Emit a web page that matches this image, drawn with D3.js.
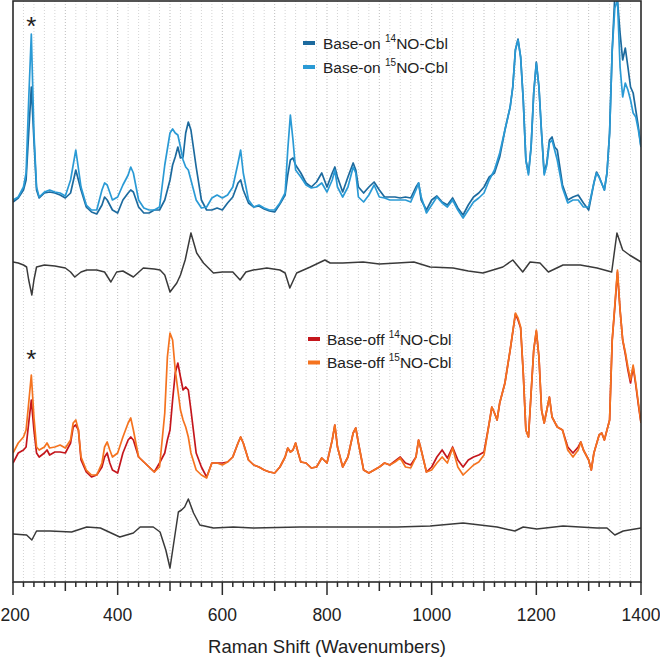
<!DOCTYPE html>
<html><head><meta charset="utf-8">
<script src="https://cdn.jsdelivr.net/npm/d3@7"></script>
<style>body{margin:0;background:#fff}svg{display:block;font-family:"Liberation Sans",Arial,sans-serif}</style>
</head><body><svg id="c" width="660" height="658"></svg>
<script>
// Raman shift (cm-1) sample points, base-on pair
const onW = [200,210,220,225,230,235,240,245,250,260,270,280,290,300,310,320,330,340,350,360,370,375,380,390,400,410,420,425,430,440,450,460,470,480,490,500,505,510,515,520,525,530,535,540,550,560,570,580,590,600,610,620,630,635,640,650,660,670,680,690,700,710,720,725,730,735,740,750,760,770,780,790,800,810,815,820,830,840,850,855,860,870,880,890,900,910,920,930,940,950,960,970,975,980,990,1000,1010,1020,1030,1040,1050,1060,1070,1080,1090,1100,1110,1120,1130,1140,1150,1155,1160,1165,1170,1175,1180,1185,1190,1195,1200,1205,1210,1215,1220,1225,1230,1235,1240,1250,1260,1270,1280,1290,1300,1310,1315,1320,1330,1335,1340,1345,1350,1355,1360,1365,1370,1375,1380,1385,1390,1395,1400];
const on14 = [398,402,410,420,467,513,460,410,402,407,408,407,405,402,407,430,410,393,388,386,395,403,400,390,387,400,407,410,408,393,387,387,390,390,400,420,435,443,453,442,443,467,478,470,433,400,390,390,392,390,397,403,417,420,410,397,393,394,391,389,388,396,405,425,440,442,435,427,417,413,418,427,413,427,433,423,408,423,437,430,413,407,413,418,410,403,403,403,402,403,402,413,417,400,390,400,404,398,395,402,392,385,395,403,407,413,423,427,443,470,493,513,550,561,543,500,440,427,453,507,538,513,467,427,437,460,463,453,450,415,400,403,405,397,390,417,428,423,410,427,467,550,605,600,567,540,552,533,513,507,490,473,453];
const on15 = [400,403,413,427,500,566,467,413,403,408,410,408,407,404,420,450,413,395,390,390,410,417,415,400,403,415,425,433,427,400,392,390,390,393,435,467,471,467,465,453,440,433,430,420,400,392,393,402,405,402,405,413,437,450,427,400,393,395,392,390,390,397,407,450,485,460,430,423,415,412,413,417,408,420,430,413,403,413,433,427,403,398,405,415,403,402,400,400,400,400,398,410,417,403,387,395,403,397,393,400,390,382,390,398,402,407,420,430,447,470,493,513,550,560,543,500,440,425,453,507,537,513,467,425,435,457,460,450,440,412,397,400,400,393,393,417,427,423,410,427,467,550,592,600,533,503,517,510,500,487,483,470,453];
// base-off pair
const offW = [200,210,220,225,230,235,240,245,250,260,265,270,280,290,300,310,315,320,325,330,340,350,360,370,375,380,385,390,400,410,420,425,430,440,450,460,470,480,490,495,500,505,510,515,520,525,530,535,540,550,560,570,580,590,600,610,620,630,635,640,650,660,670,680,690,700,710,720,725,730,735,740,745,750,760,770,780,790,800,810,815,820,830,840,850,855,860,870,880,890,900,910,920,930,940,950,960,970,975,980,990,1000,1010,1020,1030,1040,1050,1060,1070,1080,1090,1100,1110,1115,1120,1125,1130,1140,1150,1160,1165,1170,1175,1180,1185,1190,1195,1200,1205,1210,1215,1220,1225,1230,1240,1250,1260,1270,1280,1285,1290,1300,1305,1310,1320,1325,1330,1340,1345,1350,1355,1360,1365,1370,1375,1380,1385,1390,1395,1400];
const off14 = [137,147,150,153,177,200,170,147,143,147,150,145,148,148,147,157,173,175,170,140,128,123,125,133,143,147,137,130,127,147,160,163,160,143,138,133,128,137,147,160,170,200,227,237,223,210,213,210,190,147,133,123,137,137,137,138,143,157,163,157,140,135,133,130,128,127,133,143,152,148,150,157,147,138,137,132,133,142,137,160,175,153,133,143,167,172,157,130,127,130,133,137,135,139,143,137,135,143,160,150,128,133,143,150,142,153,140,133,140,143,145,148,177,193,187,180,197,217,250,286,280,272,227,170,163,207,250,269,243,190,177,190,203,183,173,170,153,147,153,158,150,140,130,147,165,167,160,180,260,293,328,290,260,246,230,217,233,215,195,177];
const off15 = [147,157,163,170,197,225,183,153,150,153,157,152,153,155,152,160,177,180,170,143,130,125,125,137,153,158,150,143,147,163,177,182,170,143,138,133,128,133,187,243,267,260,230,210,190,180,173,163,147,130,125,122,137,137,135,138,143,157,163,157,140,135,133,130,128,127,133,143,152,148,150,157,147,138,137,132,133,142,137,160,175,153,133,143,167,172,157,130,127,130,133,137,135,138,142,133,132,143,160,150,128,130,137,143,137,152,133,125,130,135,138,145,177,193,187,180,197,217,250,287,282,273,227,170,163,207,250,270,243,190,177,190,203,183,173,170,150,143,150,158,150,140,130,147,165,167,160,180,260,295,330,290,260,248,233,220,235,217,197,177];
// difference spectra (14NO - 15NO), offset
const diffOnW = [200,210,220,226,230,236,240,245,260,280,300,310,318,330,341,360,375,387,398,410,430,449,470,481,490,500,513,520,529,540,551,564,583,600,620,634,645,659,685,710,720,729,742,768,796,806,830,869,900,934,966,997,1041,1070,1098,1136,1155,1174,1188,1207,1223,1251,1284,1316,1344,1354,1365,1378,1400];
const diffOn = [338,337,335,333,320,305,320,333,335,334,332,328,323,328,330,330,328,318,328,329,323,332,331,330,325,308,317,325,340,367,347,337,327,328,328,320,328,330,332,330,327,312,327,333,340,337,337,338,336,337,338,333,332,329,327,333,340,328,338,337,328,335,335,332,328,367,350,345,338];
const diffOffW = [200,226,236,245,271,312,341,367,404,430,443,468,481,492,500,508,516,522,528,535,545,557,583,621,659,748,806,934,997,1060,1125,1159,1175,1201,1251,1316,1335,1350,1366,1400];
const diffOff = [66,65,60,69,69,68,73,72,63,67,73,73,68,50,32,60,88,90,93,101,87,75,72,73,72,73,73,73,74,77,73,69,73,71,74,72,72,65,69,72];
const xTicks = [200,400,600,800,1000,1200,1400];
const legendOn = [{pre:"Base-on ",iso:"14",post:"NO-Cbl"},{pre:"Base-on ",iso:"15",post:"NO-Cbl"}];
const legendOff = [{pre:"Base-off ",iso:"14",post:"NO-Cbl"},{pre:"Base-off ",iso:"15",post:"NO-Cbl"}];
const xTitle = "Raman Shift (Wavenumbers)";

const colors = {on14:"#1c6a9e", on15:"#2a9ad5", off14:"#c4161c", off15:"#f5731f", diff:"#3a3a3a"};
const svg = d3.select("#c");
const L=13, R=641, T=1, B=582;
const x = d3.scaleLinear().domain([200,1400]).range([L,R]);
const y = d3.scaleLinear().domain([18,599]).range([B,T]);

// grid
const gridVals = d3.range(220,1400,20);
svg.append("g").selectAll("line").data(gridVals).join("line")
  .attr("x1",d=>x(d)).attr("x2",d=>x(d)).attr("y1",T).attr("y2",B)
  .attr("stroke",d=>d%100===0?"#bdbdbd":"#d4d4d4").attr("stroke-width",1).attr("stroke-dasharray","1,2");

svg.append("defs").append("clipPath").attr("id","clip").append("rect")
  .attr("x",L).attr("y",T).attr("width",R-L).attr("height",B-T);

const line = (ws)=>d3.line().x((d,i)=>x(ws[i])).y(d=>y(d));
const g = svg.append("g").attr("clip-path","url(#clip)");
function draw(ws,vals,col,w){ g.append("path").datum(vals).attr("d",line(ws)).attr("fill","none").attr("stroke",col).attr("stroke-width",w).attr("stroke-linejoin","round"); }
draw(onW,on14,colors.on14,1.7);
draw(onW,on15,colors.on15,1.7);
draw(diffOnW,diffOn,colors.diff,1.5);
draw(offW,off14,colors.off14,1.7);
draw(offW,off15,colors.off15,1.7);
draw(diffOffW,diffOff,colors.diff,1.5);

// frame
svg.append("rect").attr("x",L).attr("y",T).attr("width",R-L).attr("height",B-T)
  .attr("fill","none").attr("stroke","#2a2a2a").attr("stroke-width",1.6);

// ticks
const minor = d3.range(200,1401,20);
svg.append("g").selectAll("line").data(minor).join("line")
  .attr("x1",d=>x(d)).attr("x2",d=>x(d)).attr("y1",B)
  .attr("y2",d=>B+(d%200===0?13:(d%100===0?9:5)))
  .attr("stroke","#2a2a2a").attr("stroke-width",1.5);
svg.append("g").selectAll("text").data(xTicks).join("text")
  .attr("x",(d,i)=>i===0?0.5:x(d)).attr("y",621).attr("text-anchor",(d,i)=>i===0?"start":"middle")
  .attr("font-size","17.5px").attr("fill","#222").text(d=>d);
svg.append("text").attr("x",(L+R)/2).attr("y",653).attr("text-anchor","middle")
  .attr("font-size","18.5px").attr("fill","#222").text(xTitle);

// asterisks
[[235,35],[235,368]].forEach(([w,yy])=>{
  svg.append("text").attr("x",x(w)).attr("y",yy).attr("text-anchor","middle")
    .attr("font-size","26px").attr("fill","#222").text("*");
});

// legends
function legend(items,cols,sx,sy,dy,tx){
  items.forEach((it,i)=>{
    const yy=sy+i*dy;
    svg.append("line").attr("x1",sx).attr("x2",sx+12).attr("y1",yy).attr("y2",yy)
      .attr("stroke",cols[i]).attr("stroke-width",4);
    const t=svg.append("text").attr("x",tx).attr("y",yy+5.5).attr("font-size","15.5px").attr("fill","#222");
    t.append("tspan").text(it.pre);
    t.append("tspan").attr("font-size","10px").attr("dy",-7).text(it.iso);
    t.append("tspan").attr("dy",7).text(it.post);
  });
}
legend(legendOn,[colors.on14,colors.on15],303,43,24,323);
legend(legendOff,[colors.off14,colors.off15],308,339,23.5,327);
</script></body></html>
